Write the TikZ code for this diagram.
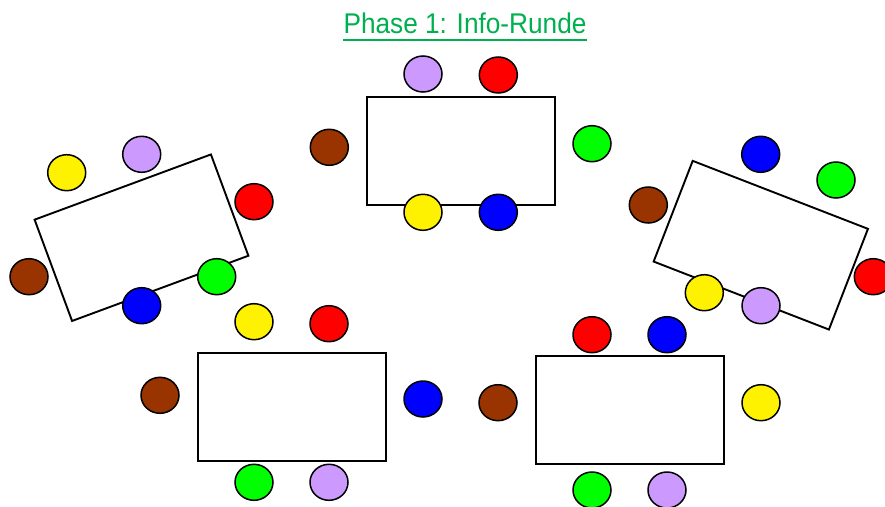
\documentclass[tikz,border=0pt]{standalone}
\usepackage{fontspec}
\setmainfont{Liberation Sans}
\newfontfamily\titelfont[FakeStretch=0.92]{Liberation Sans}
\usetikzlibrary{shapes.geometric}
\definecolor{titelgruen}{HTML}{00B050}
\definecolor{lila}{HTML}{CC99FF}
\definecolor{braun}{HTML}{993300}
\tikzset{
  tisch/.style={draw,line width=1.9pt,minimum width=188pt,minimum height=108pt,inner sep=0pt},
  stuhl/.style={ellipse,draw,line width=1.5pt,minimum width=38pt,minimum height=36pt,inner sep=0pt}
}
\begin{document}
\begin{tikzpicture}[x=1pt,y=-1pt]
\useasboundingbox (0,0) rectangle (885,506);
% Titel
\node[text=titelgruen,font=\titelfont\fontsize{28.5}{30}\selectfont,anchor=base,inner sep=0pt] (titel) at (465,33.5) {Phase 1: Info-Runde};
\draw[titelgruen,line width=2.4pt] ([yshift=-6.5pt]titel.base west) -- ([yshift=-6.5pt]titel.base east);
% Tische
\node[tisch] (mitte) at (461,151) {};
\node[tisch,rotate=20.3] (links) at (141.5,237.7) {};
\node[tisch,rotate=-21.2] (rechts) at (760.8,245.2) {};
\node[tisch] (untenlinks) at (291.7,406.7) {};
\node[tisch] (untenrechts) at (629.7,410.3) {};
% Stuehle mitte
\node[stuhl,fill=lila] (m1) at (423,74) {};
\node[stuhl,fill=red] (m2) at (498.3,75) {};
\node[stuhl,fill=braun] (m3) at (329.3,147.3) {};
\node[stuhl,fill=green] (m4) at (592,143.7) {};
\node[stuhl,fill=yellow] (m5) at (423,212.3) {};
\node[stuhl,fill=blue] (m6) at (498.3,212.3) {};
% Stuehle links
\node[stuhl,fill=yellow] (l1) at (66.7,172.7) {};
\node[stuhl,fill=lila] (l2) at (141.7,154.3) {};
\node[stuhl,fill=red] (l3) at (254,201.7) {};
\node[stuhl,fill=braun] (l4) at (29,276.7) {};
\node[stuhl,fill=blue] (l5) at (141.7,305.7) {};
\node[stuhl,fill=green] (l6) at (216.7,276.7) {};
% Stuehle rechts
\node[stuhl,fill=blue] (r1) at (760.7,154.3) {};
\node[stuhl,fill=green] (r2) at (836,180) {};
\node[stuhl,fill=braun] (r3) at (648.3,205) {};
\node[stuhl,fill=red] (r4) at (873.3,276.7) {};
\node[stuhl,fill=yellow] (r5) at (704.3,292.7) {};
\node[stuhl,fill=lila] (r6) at (761,305.7) {};
% Stuehle unten links
\node[stuhl,fill=yellow] (ul1) at (254,321.7) {};
\node[stuhl,fill=red] (ul2) at (329,323.7) {};
\node[stuhl,fill=braun] (ul3) at (160,395.3) {};
\node[stuhl,fill=blue] (ul4) at (423,399) {};
\node[stuhl,fill=green] (ul5) at (254,482.3) {};
\node[stuhl,fill=lila] (ul6) at (329,482.3) {};
% Stuehle unten rechts
\node[stuhl,fill=red] (ur1) at (592,334.7) {};
\node[stuhl,fill=blue] (ur2) at (667,334.7) {};
\node[stuhl,fill=braun] (ur3) at (498,402.7) {};
\node[stuhl,fill=yellow] (ur4) at (761,402.7) {};
\node[stuhl,fill=green] (ur5) at (592,490) {};
\node[stuhl,fill=lila] (ur6) at (667,490) {};
\end{tikzpicture}
\end{document}
